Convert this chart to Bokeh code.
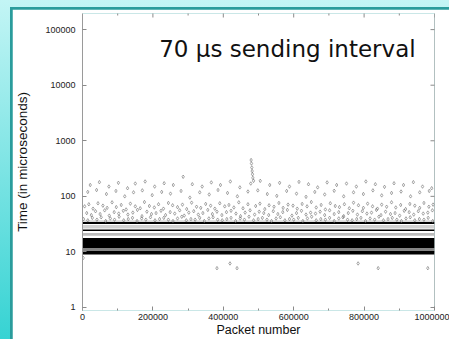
import math
from bokeh.plotting import figure
from bokeh.models import ColumnDataSource, FixedTicker, Range1d, Label
from bokeh.layouts import column
from bokeh.embed import file_html
from bokeh.resources import INLINE

# ---------------- data ----------------
title_text = "70 µs sending interval"
x_label = "Packet number"
y_label = "Time (in microseconds)"

x_min, x_max = 0, 1000000
y_min, y_max = 0.883, 195000

x_ticks = [0, 200000, 400000, 600000, 800000, 1000000]
x_tick_labels = ["0", "200000", "400000", "600000", "800000", "1000000"]
x_minor = [100000, 300000, 500000, 700000, 900000]
y_ticks = [1, 10, 100, 1000, 10000, 100000]
y_tick_labels = ["1", "10", "100", "1000", "10000", "100000"]

# dense bands of points (microseconds), spanning all packets
band_lo = [31.8, 23.8, 11.8, 9.0]
band_hi = [34.4, 25.4, 17.8, 10.4]
# sparser speckled bands
speck_lo = [34.4, 26.5, 19.5, 10.4]
speck_hi = [37.0, 30.5, 22.0, 11.8]
speck_col = ["#dadada", "#d2d2d2", "#bcbcbc", "#858585"]

# scattered outliers, x in thousands of packets
upper_x = [22, 48, 75, 102, 128, 150, 178, 205, 232, 258, 286, 312, 340, 366, 392, 420, 447, 478, 505, 532,
           560, 588, 615, 642, 668, 695, 722, 750, 778, 805, 832, 858, 885, 912, 940, 966, 992]
upper_y = [160, 180, 150, 175, 140, 170, 185, 150, 172, 160, 225, 165, 150, 178, 160, 185, 145, 170, 190, 160,
           175, 150, 182, 165, 145, 178, 160, 170, 150, 185, 165, 148, 172, 160, 180, 150, 140]
mid_x = [15, 40, 68, 95, 120, 145, 170, 198, 225, 250, 280, 305, 333, 360, 385, 412, 440, 470, 498, 525,
         552, 580, 608, 635, 660, 688, 715, 742, 770, 798, 825, 850, 878, 905, 932, 958, 985]
mid_y = [120, 130, 110, 125, 100, 118, 128, 105, 120, 112, 125, 95, 118, 108, 130, 115, 100, 122, 128, 110,
         102, 125, 112, 98, 120, 108, 126, 100, 118, 110, 128, 104, 115, 122, 100, 118, 125]
spike_x = [479, 480, 481, 482, 483, 484, 486]
spike_y = [450, 390, 330, 285, 250, 215, 190]
row3_x = [6, 18, 30, 44, 58, 70, 84, 96, 110, 124, 136, 150, 164, 176, 190, 204, 216, 230, 244, 256,
          270, 284, 296, 310, 324, 336, 350, 364, 376, 390, 404, 416, 430, 444, 456, 470, 492, 504, 518, 530,
          544, 558, 570, 584, 598, 610, 624, 638, 650, 664, 678, 690, 704, 718, 730, 744, 758, 770, 784, 798,
          810, 824, 838, 850, 864, 878, 890, 904, 918, 930, 944, 958, 970, 984, 996]
row3_y = [66, 72, 60, 75, 68, 62, 78, 64, 70, 58, 74, 66, 61, 79, 67, 63, 72, 60, 76, 69,
          64, 71, 59, 77, 65, 62, 73, 68, 60, 75, 66, 70, 63, 78, 61, 72, 67, 74, 59, 69,
          65, 76, 62, 71, 68, 60, 73, 66, 79, 63, 70, 58, 75, 67, 64, 72, 61, 77, 69, 62,
          74, 66, 60, 71, 65, 78, 63, 70, 59, 73, 68, 62, 76, 65, 71]
row4_x = [12, 25, 37, 50, 63, 76, 90, 103, 116, 129, 143, 156, 169, 183, 196, 209, 223, 236, 249, 262,
          276, 289, 302, 316, 329, 342, 356, 369, 382, 396, 409, 422, 436, 449, 462, 476, 489, 502, 515, 529,
          542, 555, 569, 582, 595, 608, 622, 635, 648, 662, 675, 688, 702, 715, 728, 742, 755, 768, 781, 795,
          808, 821, 835, 848, 861, 875, 888, 901, 914, 928, 941, 954, 968, 981, 994]
row4_y = [50, 46, 54, 48, 56, 45, 52, 49, 55, 47, 51, 57, 44, 53, 48, 50, 55, 46, 52, 49,
          56, 45, 51, 54, 47, 50, 57, 48, 53, 46, 52, 55, 49, 44, 51, 56, 47, 53, 50, 46,
          54, 48, 52, 57, 45, 50, 55, 47, 51, 49, 53, 46, 56, 48, 52, 44, 50, 55, 47, 54,
          49, 51, 57, 46, 53, 48, 50, 45, 55, 52, 47, 54, 49, 51, 56]
row5_x = [3, 15, 28, 41, 53, 66, 79, 91, 104, 117, 130, 142, 155, 168, 180, 193, 206, 219, 231, 244,
          257, 270, 282, 295, 308, 320, 333, 346, 359, 371, 384, 397, 410, 422, 435, 448, 460, 473, 486, 499,
          511, 524, 537, 550, 562, 575, 588, 600, 613, 626, 639, 651, 664, 677, 690, 702, 715, 728, 740, 753,
          766, 779, 791, 804, 817, 830, 842, 855, 868, 880, 893, 906, 919, 931, 944, 957, 970, 982, 995]
row5_y = [39, 37, 41, 38, 42, 36, 40, 38, 43, 37, 39, 41, 36, 40, 38, 42, 37, 39, 41, 38,
          36, 40, 43, 37, 39, 38, 41, 36, 40, 42, 38, 37, 39, 41, 36, 40, 38, 43, 37, 39,
          41, 38, 36, 40, 42, 37, 39, 38, 41, 36, 40, 43, 37, 39, 38, 41, 36, 40, 42, 38,
          37, 39, 41, 36, 40, 38, 43, 37, 39, 41, 38, 36, 40, 42, 37, 39, 38, 41, 36]
low_x = [2, 382, 419, 439, 783, 840, 981]
low_y = [7.8, 5.1, 6.2, 5.1, 6.2, 5.1, 5.1]

# annotation anchor (data units)
title_x = 218000
title_y = 45500

# ---------------- figure ----------------
p = figure(width=437, height=330, x_range=Range1d(x_min, x_max), y_range=Range1d(y_min, y_max),
           y_axis_type="log", output_backend="svg", toolbar_location=None,
           min_border_left=69, min_border_right=15, min_border_top=4, min_border_bottom=20,
           outline_line_color=None, background_fill_color="white", border_fill_color="white")
p.grid.visible = False

FONT = "Liberation Sans"
TICK = "#8a8a8a"

xa = p.xaxis[0]
xa.ticker = FixedTicker(ticks=x_ticks, minor_ticks=x_minor)
xa.major_label_overrides = {t: l for t, l in zip(x_ticks, x_tick_labels)}
xa.axis_line_color = None
xa.major_tick_in = 4
xa.major_tick_out = 0
xa.minor_tick_in = 2
xa.minor_tick_out = 0
xa.major_tick_line_color = TICK
xa.minor_tick_line_color = TICK
xa.major_label_text_font = FONT
xa.major_label_text_font_size = "9px"
xa.major_label_text_color = "#222222"
xa.major_label_standoff = 3
xa.axis_label = x_label
xa.axis_label_text_font = FONT
xa.axis_label_text_font_size = "12.5px"
xa.axis_label_text_font_style = "normal"
xa.axis_label_text_color = "#111111"
xa.axis_label_standoff = 0

ya = p.yaxis[0]
ya.ticker = FixedTicker(ticks=y_ticks, minor_ticks=[])
ya.major_label_overrides = {t: l for t, l in zip(y_ticks, y_tick_labels)}
ya.axis_line_color = "#9a9a9a"
ya.major_tick_in = 4
ya.major_tick_out = 0
ya.minor_tick_in = 0
ya.minor_tick_out = 0
ya.major_tick_line_color = TICK
ya.major_label_text_font = FONT
ya.major_label_text_font_size = "9px"
ya.major_label_text_color = "#222222"
ya.major_label_standoff = 7
ya.axis_label = y_label
ya.axis_label_text_font = FONT
ya.axis_label_text_font_size = "13.5px"
ya.axis_label_text_font_style = "normal"
ya.axis_label_text_color = "#111111"
ya.axis_label_standoff = 12

# right border line and mirrored ticks (top and right), drawn from the tick arrays
p.segment(x0=[x_max], y0=[y_min], x1=[x_max], y1=[y_max], line_color="#9a9a9a", line_width=1)
p.scatter(x=x_ticks[1:], y=[y_max] * (len(x_ticks) - 1), marker="dash", angle=math.pi / 2,
          size=8, line_color=TICK, line_width=1)
p.scatter(x=x_minor, y=[y_max] * len(x_minor), marker="dash", angle=math.pi / 2,
          size=4, line_color=TICK, line_width=1)
p.scatter(x=[x_max] * len(y_ticks), y=y_ticks, marker="dash", size=8, line_color=TICK, line_width=1)

# bands
speck_src = ColumnDataSource(dict(left=[x_min] * len(speck_lo), right=[x_max] * len(speck_lo),
                                  bottom=speck_lo, top=speck_hi, color=speck_col))
p.quad(left="left", right="right", bottom="bottom", top="top", fill_color="color",
       line_color=None, source=speck_src)
band_src = ColumnDataSource(dict(left=[x_min] * len(band_lo), right=[x_max] * len(band_lo),
                                 bottom=band_lo, top=band_hi))
p.quad(left="left", right="right", bottom="bottom", top="top", fill_color="black",
       line_color=None, source=band_src)

# scattered points
all_x = upper_x + mid_x + spike_x + row3_x + row4_x + row5_x + low_x
all_y = upper_y + mid_y + spike_y + row3_y + row4_y + row5_y + low_y
pts = ColumnDataSource(dict(x=[v * 1000 for v in all_x], y=all_y))
p.scatter("x", "y", source=pts, marker="diamond", size=3.5, fill_color=None,
          line_color="#6a6a6a", line_width=0.6)

p.add_layout(Label(x=title_x, y=title_y, text=title_text, text_font="DejaVu Sans",
                   text_font_size="23px", text_color="#111111", text_baseline="alphabetic"))

p.margin = (2, 0, 0, 2)
frame_box = column(p, margin=(7, 0, 0, 10), styles={"background-color": "#2a9c9c"})
root = column(frame_box, width=449, height=339,
              styles={"background": "linear-gradient(#c3f5f5, #36d3d3)", "overflow": "hidden"})

open("out.html", "w").write(file_html(root, INLINE))
